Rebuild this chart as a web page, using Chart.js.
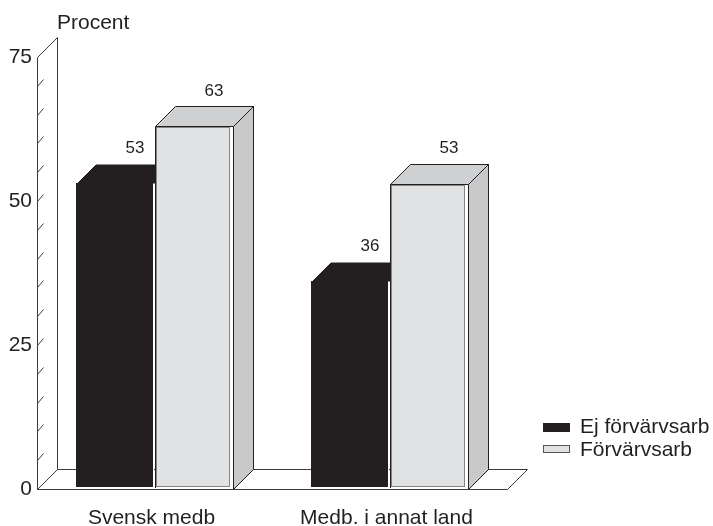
<!DOCTYPE html>
<html>
<head>
<meta charset="utf-8">
<script src="https://cdn.jsdelivr.net/npm/chart.js@4.4.1/dist/chart.umd.min.js"></script>
<style>
  html, body { margin: 0; padding: 0; background: #ffffff; }
  #wrap { width: 713px; height: 526px; }
  canvas { background: #ffffff; }
</style>
</head>
<body>
<div id="wrap"><canvas id="chart" width="713" height="526"></canvas></div>
<script>
// Categories, series and tick labels
const categories = ['Svensk medb', 'Medb. i annat land'];
const seriesNames = ['Ej förvärvsarb', 'Förvärvsarb'];
const ejForvarvsarb = [53, 36];
const forvarvsarb = [63, 53];
const yTickLabels = [0, 25, 50, 75];
const yTitle = 'Procent';

// Styling
const FONT = "'Liberation Sans', Arial, Helvetica, sans-serif";
const INK = '#231f20';
const DARK = '#231f20';
const LIGHT_FRONT = '#e1e2e4';
const LIGHT_TOP = '#cfd0d1';
const LIGHT_SIDE = '#c8c9ca';
const LIGHT_EDGE = '#858585';
const DX = 20;   // depth offset to the right
const DY = 20;   // depth offset upwards

function poly(ctx, pts) {
  ctx.beginPath();
  ctx.moveTo(pts[0][0], pts[0][1]);
  for (let i = 1; i < pts.length; i++) ctx.lineTo(pts[i][0], pts[i][1]);
  ctx.closePath();
}
function line(ctx, x1, y1, x2, y2) {
  ctx.beginPath();
  ctx.moveTo(x1, y1);
  ctx.lineTo(x2, y2);
  ctx.stroke();
}

// Draws the pseudo-3D wall, floor, boxes, value labels and legend.
// The flat bars from Chart.js are transparent; their geometry drives the boxes.
const box3d = {
  id: 'box3d',
  beforeDatasetsDraw(chart) {
    const { ctx, chartArea: a, scales: { y } } = chart;
    const L = Math.round(a.left) + 0.5, R = Math.round(a.right) + 0.5;
    const T = Math.round(a.top) + 0.5, B = Math.round(a.bottom) + 0.5;
    ctx.save();
    ctx.strokeStyle = '#3a3a3a';
    ctx.lineWidth = 1;
    // left wall
    line(ctx, L, B, L, T);
    line(ctx, L, T, L + DX, T - DY);
    line(ctx, L + DX, T - DY, L + DX, B - DY);
    // floor
    line(ctx, L, B, L + DX, B - DY);
    line(ctx, L + DX, B - DY, R + DX, B - DY);
    line(ctx, R + DX, B - DY, R, B);
    // minor ticks on the front axis
    y.ticks.forEach(t => {
      if (t.value <= y.min || t.value >= y.max) return;
      const py = Math.round(y.getPixelForValue(t.value)) + 0.5;
      line(ctx, L, py, L + 6, py - 7);
    });
    ctx.restore();
  },
  afterDatasetsDraw(chart) {
    const { ctx, chartArea: a } = chart;
    const metas = chart.data.datasets.map((_, i) => chart.getDatasetMeta(i));
    const L = Math.round(a.left) + 0.5, R = Math.round(a.right) + 0.5;
    const B = Math.round(a.bottom) + 0.5;
    ctx.save();
    ctx.lineWidth = 1;
    for (let c = 0; c < categories.length; c++) {
      // dark box
      {
        const el = metas[0].data[c];
        const x1 = Math.round(el.x - el.width / 2), x2 = Math.round(el.x + el.width / 2);
        const yt = Math.round(el.y), yb = Math.round(el.base);
        ctx.fillStyle = DARK;
        poly(ctx, [[x2, yt], [x2 + DX, yt - DY], [x2 + DX, yb - DY], [x2, yb - 2]]);
        ctx.fill();
        poly(ctx, [[x1, yt], [x1 + DX, yt - DY], [x2 + DX, yt - DY], [x2, yt]]);
        ctx.fill();
        ctx.strokeStyle = '#ffffff';
        ctx.stroke();
        ctx.fillStyle = DARK;
        ctx.fillRect(x1, yt - 1, x2 - 2 - x1, yb - yt - 1);
        ctx.strokeStyle = '#ffffff';
        line(ctx, x2 - 1.5, yt, x2 - 1.5, yb - 2);
      }
      // light box
      {
        const el = metas[1].data[c];
        const x1 = Math.round(el.x - el.width / 2), x2 = Math.round(el.x + el.width / 2);
        const yt = Math.round(el.y), yb = Math.round(el.base);
        ctx.strokeStyle = INK;
        ctx.fillStyle = LIGHT_SIDE;
        poly(ctx, [[x2 + 0.5, yt + 0.5], [x2 + DX + 0.5, yt - DY + 0.5], [x2 + DX + 0.5, yb - DY + 0.5], [x2 + 0.5, yb + 0.5]]);
        ctx.fill();
        ctx.stroke();
        ctx.fillStyle = LIGHT_TOP;
        poly(ctx, [[x1 + 0.5, yt + 0.5], [x1 + DX + 0.5, yt - DY + 0.5], [x2 + DX + 0.5, yt - DY + 0.5], [x2 + 0.5, yt + 0.5]]);
        ctx.fill();
        ctx.stroke();
        ctx.fillStyle = '#ffffff';
        ctx.fillRect(x1 + 1, yt + 1, x2 - x1 - 1, yb - yt - 1);
        ctx.fillStyle = LIGHT_FRONT;
        ctx.fillRect(x1 + 1, yt + 1, x2 - 4 - x1 - 1, yb - 3 - yt - 1);
        ctx.strokeStyle = LIGHT_EDGE;
        ctx.strokeRect(x1 + 1.5, yt + 1.5, x2 - 4 - x1 - 1, yb - 3 - yt - 1);
        ctx.strokeStyle = INK;
        line(ctx, x1 + 0.5, yt + 0.5, x1 + 0.5, yb - 1);
      }
    }
    // front edge of the floor
    ctx.strokeStyle = '#3a3a3a';
    line(ctx, L, B, R, B);
    // value labels above each box
    ctx.fillStyle = INK;
    ctx.font = '17px ' + FONT;
    ctx.textAlign = 'center';
    ctx.textBaseline = 'middle';
    metas.forEach((m, i) => {
      m.data.forEach((el, j) => {
        const v = chart.data.datasets[i].data[j];
        ctx.fillText(String(v), el.x + 20, el.y - DY - 15);
      });
    });
    ctx.restore();
  },
  afterDraw(chart) {
    const { ctx } = chart;
    ctx.save();
    ctx.fillStyle = INK;
    ctx.font = '21px ' + FONT;
    ctx.textAlign = 'left';
    ctx.textBaseline = 'alphabetic';
    ctx.fillText(yTitle, 57, 29);
    // legend
    ctx.textBaseline = 'middle';
    ctx.fillStyle = DARK;
    ctx.fillRect(543, 423, 27, 9);
    ctx.fillStyle = LIGHT_FRONT;
    ctx.fillRect(543, 445, 27, 8);
    ctx.strokeStyle = '#555555';
    ctx.lineWidth = 1;
    ctx.strokeRect(543.5, 445.5, 26, 7);
    ctx.fillStyle = INK;
    ctx.fillText(chart.data.datasets[0].label, 580, 427);
    ctx.fillText(chart.data.datasets[1].label, 580, 450);
    ctx.restore();
  }
};

new Chart(document.getElementById('chart'), {
  type: 'bar',
  data: {
    labels: categories,
    datasets: [
      { label: seriesNames[0], data: ejForvarvsarb, backgroundColor: 'rgba(0,0,0,0)', borderWidth: 0 },
      { label: seriesNames[1], data: forvarvsarb, backgroundColor: 'rgba(0,0,0,0)', borderWidth: 0 }
    ]
  },
  options: {
    responsive: false,
    animation: false,
    devicePixelRatio: 1,
    layout: { padding: { top: 57, right: 206, left: 0, bottom: 0 } },
    datasets: { bar: { categoryPercentage: 0.672, barPercentage: 1 } },
    plugins: { legend: { display: false }, tooltip: { enabled: false } },
    scales: {
      x: {
        grid: { display: false, drawTicks: false },
        border: { display: false },
        ticks: { font: { family: FONT, size: 21 }, color: INK, padding: 17, labelOffset: -3, maxRotation: 0, autoSkip: false },
        afterFit: s => { s.height = 37; }
      },
      y: {
        min: 0,
        max: 75,
        grid: { display: false, drawTicks: false },
        border: { display: false },
        ticks: {
          stepSize: 5,
          autoSkip: false,
          font: { family: FONT, size: 21 },
          color: INK,
          padding: 5,
          callback: v => (yTickLabels.includes(v) ? String(v) : '')
        },
        afterFit: s => { s.width = 37; }
      }
    }
  },
  plugins: [box3d]
});
</script>
</body>
</html>
